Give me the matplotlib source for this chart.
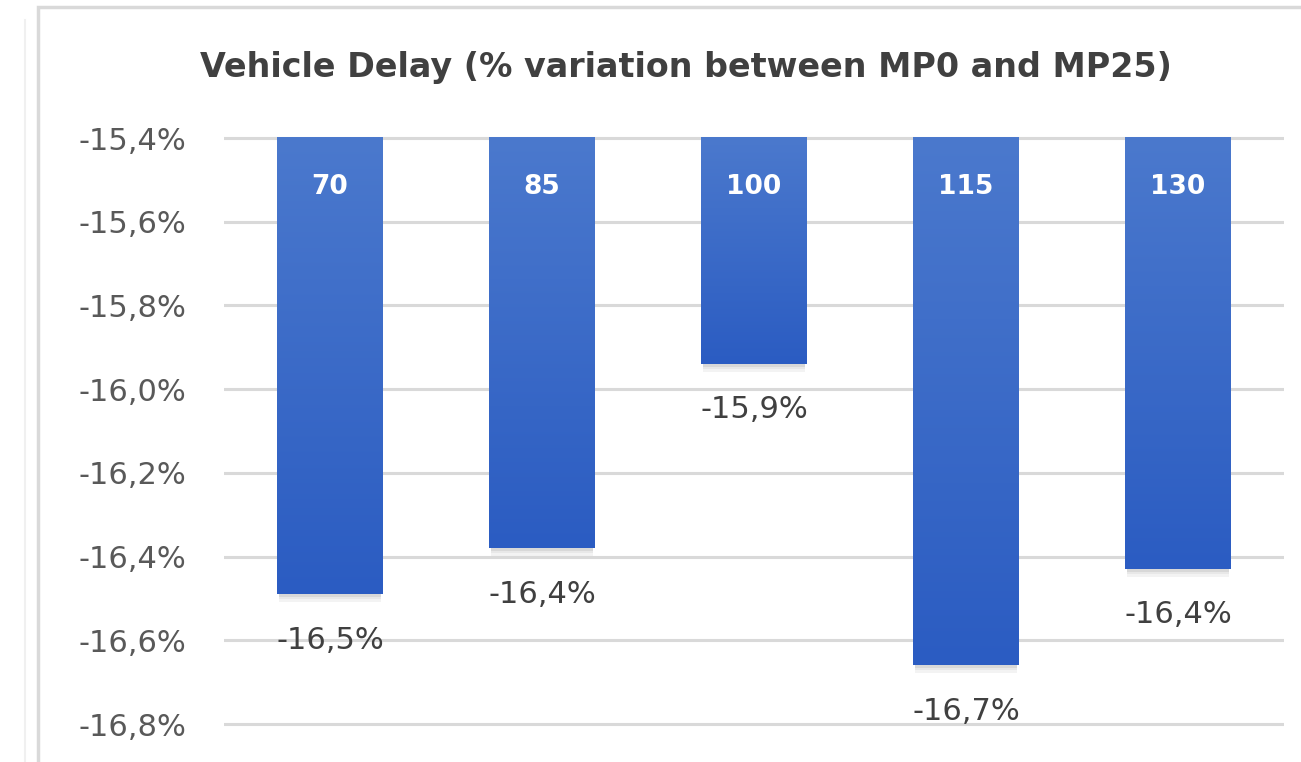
import matplotlib
matplotlib.use("Agg")
import matplotlib.pyplot as plt
import numpy as np
from matplotlib.colors import LinearSegmentedColormap
from matplotlib.patches import Rectangle
from matplotlib.transforms import ScaledTranslation

# Speed scenarios and the change in vehicle delay between MP0 and MP25 (%)
categories = ["70", "85", "100", "115", "130"]
delay_change = [-16.49, -16.38, -15.94, -16.66, -16.43]
y_ticks = [-15.4, -15.6, -15.8, -16.0, -16.2, -16.4, -16.6, -16.8]
title = "Vehicle Delay (% variation between MP0 and MP25)"

baseline = -15.4
ymin, ymax = -16.83, -15.37

W, H = 1301, 762
fig = plt.figure(figsize=(W / 100, H / 100), dpi=100)
fig.patch.set_facecolor("white")

# light chart-area frame
fig.add_artist(Rectangle((38 / W, -0.1), 1.2, 1 - 7 / H + 0.1, transform=fig.transFigure,
                         fill=False, edgecolor="#d9d9d9", linewidth=2.5))
fig.add_artist(plt.Line2D([25 / W, 25 / W], [0, 1 - 20 / H], transform=fig.transFigure,
                          color="#f0f0f0", linewidth=1.5))

px_per_unit = (724 - 138) / 1.4
top_px = 138 - (ymax - baseline) * px_per_unit
bot_px = 724 + (-16.8 - ymin) * px_per_unit
ax = fig.add_axes([224 / W, 1 - bot_px / H, (1284 - 224) / W, (bot_px - top_px) / H])

x = np.arange(len(categories))
width = 0.5
cmap = LinearSegmentedColormap.from_list("bar", ["#2b5cc2", "#4b79cd"])
grad = np.linspace(0, 1, 256).reshape(-1, 1)
px = 1 / px_per_unit

for xi, v, cat in zip(x, delay_change, categories):
    # soft shadow under the bar end
    for k, a in enumerate([0.30, 0.18, 0.09]):
        ax.add_patch(Rectangle((xi - width / 2 + 0.01, v - (k + 1) * 2.5 * px),
                               width - 0.02, 2.5 * px,
                               facecolor="#808080", alpha=a, edgecolor="none", zorder=2))
    ax.imshow(grad, extent=[xi - width / 2, xi + width / 2, v, baseline],
              origin="lower", cmap=cmap, aspect="auto", zorder=3, interpolation="bilinear")
    ax.text(xi, baseline, cat, color="white", fontsize=19, fontweight="bold",
            ha="center", va="center", zorder=4,
            transform=ax.transData + ScaledTranslation(0, -49 / 100, fig.dpi_scale_trans))
    label = f"{v:.1f}%".replace(".", ",")
    ax.annotate(label, (xi, v), xytext=(0, -33), textcoords="offset points",
                ha="center", va="center", fontsize=22, color="#404040", zorder=4)

ax.set_xlim(-0.5, len(categories) - 0.5)
ax.set_ylim(ymin, ymax)
ax.set_yticks(y_ticks)
ax.set_yticklabels([f"{t:.1f}%".replace(".", ",") for t in y_ticks])
ax.tick_params(axis="y", length=0, pad=27, labelsize=22, labelcolor="#595959")
ax.set_xticks([])
ax.grid(axis="y", color="#d9d9d9", linewidth=2.2, zorder=0)
ax.set_axisbelow(True)
for s in ax.spines.values():
    s.set_visible(False)

fig.text(686 / W, 1 - 67 / H, title, ha="center", va="center", fontsize=24,
         fontweight="bold", color="#404040")

fig.savefig("out.png", dpi=100, facecolor="white")
